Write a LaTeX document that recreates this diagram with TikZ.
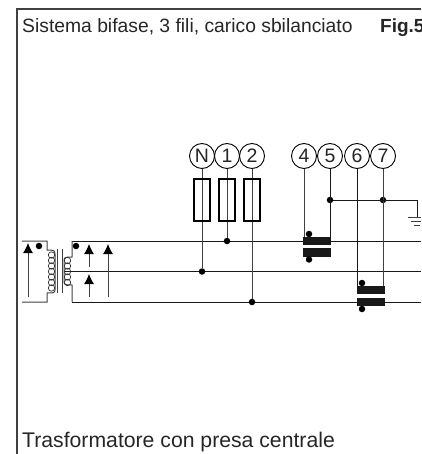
\documentclass[tikz,border=0pt]{standalone}
\usepackage{fontspec}
\setmainfont{Liberation Sans}
\usepackage{tikz}
\usetikzlibrary{arrows.meta,shapes,positioning}

\begin{document}
\begin{tikzpicture}[
	x=1pt, y=-1pt,
	wire/.style    = {line width=1pt, black!90},
	thinwire/.style = {line width=1pt, black!75},
	term/.style    = {draw, circle, line width=0.9pt, minimum size=25pt, inner sep=0pt, font=\fontsize{19.5}{20}\selectfont, text=black!85},
	fuse/.style    = {draw, rectangle, line width=1.3pt, minimum width=16pt, minimum height=42pt, inner sep=0pt},
	bar/.style     = {draw=none, fill=black!90, rectangle, minimum width=28pt, minimum height=8.5pt, inner sep=0pt},
	dot/.style     = {draw=none, fill=black, circle, minimum size=6.5pt, inner sep=0pt},
	caption/.style = {anchor=base west, inner sep=0pt, text=black!85},
	>=Latex]
	
	\useasboundingbox (0,0) rectangle (421,454);
	
	% frame and the two captions
	\coordinate (f1) at (17,454);
	\coordinate (f2) at (17,9);
	\coordinate (f3) at (421,9);
	\draw[line width=1.1pt, black!75] (f1) -- (f2) -- (f3);
	\node[caption, font=\fontsize{19.3}{20}\selectfont] (title) at (22,33) {Sistema bifase, 3 fili, carico sbilanciato};
	\node[caption, font=\fontsize{19}{20}\selectfont\bfseries] (fig) at (380,33) {Fig.5};
	\node[caption, font=\fontsize{21.2}{22}\selectfont] (trafo) at (22,447) {Trasformatore con presa centrale};
	
	% terminals, left to right
	\node[term] (N) at (202,156) {N};
	\node[term] (t1) at (227,156) {1};
	\node[term] (t2) at (252,156) {2};
	\node[term] (t4) at (304,156) {4};
	\node[term] (t5) at (330,156) {5};
	\node[term] (t6) at (357,156) {6};
	\node[term] (t7) at (383,156) {7};
	
	% the three lines
	\coordinate (l1) at (72,241);
	\coordinate (r1) at (421,241);
	\coordinate (l2) at (64,271.5);
	\coordinate (r2) at (421,271.5);
	\coordinate (l3) at (72,302);
	\coordinate (r3) at (421,302);
	\draw[wire] (l1) -- (r1);
	\draw[wire] (l2) -- (r2);
	\draw[wire] (l3) -- (r3);
	
	% junctions on the lines
	\node[dot] (dN) at (202,271.5) {};
	\node[dot] (d1) at (227,241) {};
	\node[dot] (d2) at (252,302) {};
	\node[dot] (d5) at (330,200) {};
	\node[dot] (d7) at (383,200) {};
	
	\draw[thinwire] (N) -- (dN);
	\draw[thinwire] (t1) -- (d1);
	\draw[thinwire] (t2) -- (d2);
	
	% fuses
	\foreach \name/\xpos in {fN/202,f1b/227,f2b/252}
	\node[fuse] (\name) at (\xpos,200) {};
	
	% current transformers
	\node[bar] (c1a) at (317,241) {};
	\node[bar] (c1b) at (317,252.5) {};
	\node[bar] (c2a) at (370.5,290) {};
	\node[bar] (c2b) at (370.5,302) {};
	\node[dot] (p1a) at (309,234) {};
	\node[dot] (p1b) at (309,259.5) {};
	\node[dot] (p2a) at (362,283) {};
	\node[dot] (p2b) at (362,309) {};
	
	\draw[thinwire] (t4) -- (t4 |- c1a.north);
	\draw[wire] (t5) -- (t5 |- c1a.north);
	\draw[wire] (t6) -- (t6 |- c2a.north);
	\draw[thinwire] (t7) -- (t7 |- c2a.north);
	
	% earth
	\coordinate (g0) at (417,200);
	\coordinate (g1) at (417,217);
	\coordinate (g2a) at (408,217);
	\coordinate (g2b) at (421,217);
	\coordinate (g3a) at (411,221);
	\coordinate (g3b) at (421,221);
	\coordinate (g4a) at (414,225);
	\coordinate (g4b) at (420,225);
	\draw[wire] (d5) -- (g0) -- (g1);
	\draw[thinwire] (g2a) -- (g2b);
	\draw[thinwire] (g3a) -- (g3b);
	\draw[thinwire] (g4a) -- (g4b);
	
	% transformer, primary side
	\coordinate (a1) at (22,241);
	\coordinate (a2) at (47,241);
	\coordinate (a3) at (47,293);
	\coordinate (a4) at (22,302);
	\coordinate (a5) at (47,302);
	\draw[thinwire] (a1) -- (a2) -- (47,250) .. controls (53,250) and (55,250) .. (55,254) -- (55,290) .. controls (55,293) and (53,293) .. (a3) -- (a5) -- (a4);
	\foreach \ypos in {255,260.5,266,271.5,277,282.5,288}
	\draw[line width=0.7pt, black!80] (51.5,\ypos) circle (3.2);
	
	% transformer, core
	\coordinate (k1a) at (57.5,249);
	\coordinate (k1b) at (57.5,293);
	\coordinate (k2a) at (62,249);
	\coordinate (k2b) at (62,293);
	\draw[thinwire] (k1a) -- (k1b);
	\draw[thinwire] (k2a) -- (k2b);
	
	% transformer, secondary side
	\draw[thinwire] (l1) -- (72,257) .. controls (67,257) and (64,257) .. (64,260) -- (64,282) .. controls (64,285) and (67,285) .. (72,285) -- (l3);
	\foreach \ypos in {260.5,266,271.5,277,282.5}
	\draw[line width=0.7pt, black!80] (67.5,\ypos) circle (3.2);
	
	% polarity dots
	\node[dot] (pa) at (39,246) {};
	\node[dot] (pb) at (76,246) {};
	
	% voltage arrows
	\coordinate (v1a) at (28,297);
	\coordinate (v1b) at (28,243);
	\coordinate (v2a) at (89,267);
	\coordinate (v2b) at (89,244);
	\coordinate (v3a) at (89,297);
	\coordinate (v3b) at (89,274);
	\coordinate (v4a) at (108,297);
	\coordinate (v4b) at (108,244);
	\foreach \value in {1,2,3,4}
	\draw[-{Latex[length=10pt,width=10pt,black]}, thinwire] (v\value a) -- (v\value b);
	
\end{tikzpicture}
\end{document}
